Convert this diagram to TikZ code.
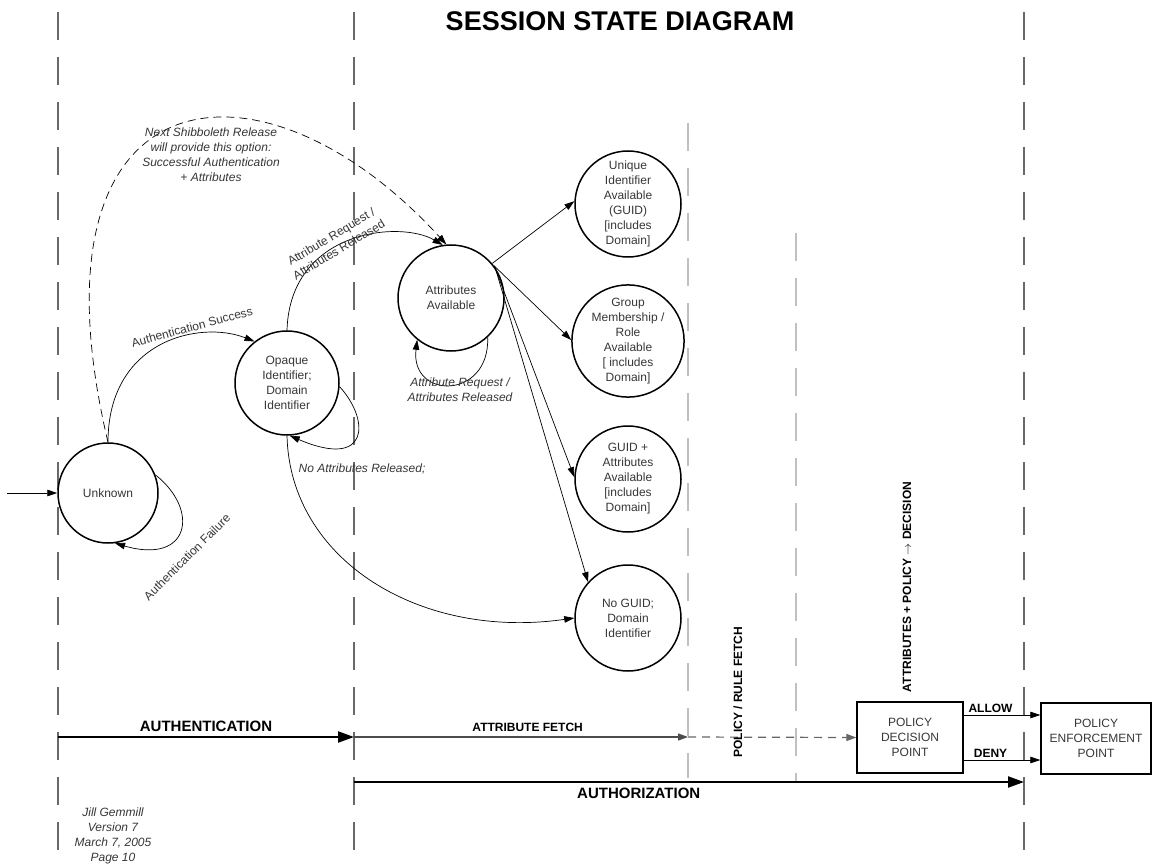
\documentclass[tikz,border=0pt]{standalone}
\usepackage{fontspec}
\setmainfont{Liberation Sans}
\usetikzlibrary{arrows.meta, positioning, calc}
\usepackage{xcolor}
\definecolor{lanegray}{RGB}{105,105,105}
\definecolor{lightlane}{RGB}{192,192,192}
\definecolor{txtgray}{RGB}{55,55,55}

\begin{document}
\begin{tikzpicture}[x=1pt,y=-1pt,
  st/.style={circle,draw,line width=1.5pt,minimum size=106pt,inner sep=0pt,align=center,
    font=\fontsize{12}{15}\selectfont,text=txtgray},
  box/.style={draw,line width=1.3pt,minimum width=106pt,minimum height=71pt,align=center,
    font=\fontsize{12}{15}\selectfont,text=txtgray},
  tr/.style={-{Triangle[length=10pt,width=6.5pt]},line width=0.7pt},
  lbl/.style={font=\fontsize{12}{15}\selectfont\itshape,text=txtgray,align=center},
  rlbl/.style={font=\fontsize{12}{15}\selectfont,text=txtgray,align=center},
  blbl/.style={font=\fontsize{12}{14}\selectfont\bfseries}]
  \useasboundingbox (0,0) rectangle (1155,866);
  \fill[white] (0,0) rectangle (1155,866);

  % swim lanes
  \foreach \x/\ya/\yb/\c/\w in {58/12/850/lanegray/1.3, 354/12/850/lanegray/1.3, 1024/12/850/lanegray/1.3,
                                688/123/778/lightlane/1.1, 796/233/782/lightlane/1.1}
    \draw[\c, line width=\w pt, dash pattern=on 28pt off 17pt] (\x,\ya) -- (\x,\yb);

  \node[font=\fontsize{27}{30}\selectfont\bfseries] (title) at (620,21) {SESSION STATE DIAGRAM};

  % states
  \node[st,minimum size=100pt] (unk) at (108,493) {Unknown};
  \node[st,minimum size=104pt] (opq) at (287,383) {Opaque\\Identifier;\\Domain\\Identifier};
  \node[st] (attr) at (451,298) {Attributes\\Available};
  \node[st] (uid) at (628,204) {Unique\\Identifier\\Available\\(GUID)\\{[}includes\\Domain{]}};
  \node[st] (grp) at (628,341) {Group\\Membership /\\Role\\Available\\{[} includes\\Domain{]}};
  \node[st] (gpa) at (628,479) {GUID +\\Attributes\\Available\\{[}includes\\Domain{]}};
  \node[st] (nog) at (628,618) {No GUID;\\Domain\\Identifier};

  % transitions
  \coordinate (entry) at (7,493);
  \draw[tr] (entry) -- (unk);
  \draw[tr] (unk.north) .. controls (108,340) and (200,320) .. (opq.128);
  \node[rlbl,rotate=15] (l1) at (192,327) {Authentication Success};
  \draw[tr] (unk.21) .. controls (200,510) and (190,565) .. (unk.-82);
  \node[rlbl,rotate=45] (l2) at (187,557) {Authentication Failure};
  \draw[tr,dash pattern=on 8pt off 5pt] (unk.north) .. controls (20,70) and (260,40) .. (attr.95);
  \node[lbl] (l3) at (211,155) {Next Shibboleth Release\\will provide this option:\\Successful Authentication\\+ Attributes};
  \draw[tr] (opq.north) .. controls (290,230) and (400,220) .. (attr.99);
  \node[rlbl,rotate=31] (l4) at (335,243) {Attribute Request /\\Attributes Released};
  \draw[tr] (opq.-4) .. controls (370,420) and (370,470) .. (opq.-87);
  \node[lbl] (l5) at (362,469) {No Attributes Released;};
  \draw[tr] (opq.-90) .. controls (290,560) and (420,640) .. (nog.west);
  \draw[tr] (attr.-47) .. controls (490,400) and (410,400) .. (attr.-129);
  \node[lbl] (l6) at (460,390) {Attribute Request /\\Attributes Released};
  \draw[tr] (attr.40) -- (uid.177);
  \draw[tr] (attr.37) -- (grp.179);
  \draw[tr] (attr.36) -- (gpa.178);
  \draw[tr] (attr.35) -- (nog.138);

  % authorization flow
  \coordinate (a0) at (58,737);
  \coordinate (a1) at (354,737);
  \coordinate (a2) at (688,737);
  \coordinate (z0) at (354,782);
  \coordinate (z1) at (1024,782);
  \node[box] (pdp) at (910,737.5) {POLICY\\DECISION\\POINT};
  \node[box,minimum width=110pt] (pep) at (1096,738.5) {POLICY\\ENFORCEMENT\\POINT};
  \draw[line width=2.2pt,-{Triangle[length=16pt,width=11pt]}] (a0) -- (a1)
    node[midway,above=1pt,font=\fontsize{15}{17}\selectfont\bfseries] {AUTHENTICATION};
  \draw[line width=1.2pt,black!70,-{Triangle[length=10pt,width=7pt]}] (a1) -- (a2)
    node[pos=0.52,above=1pt,blbl,black] {ATTRIBUTE FETCH};
  \draw[line width=1.2pt,black!60,dash pattern=on 8pt off 6pt,-{Triangle[length=10pt,width=7pt]}] (a2) -- (pdp.west);
  \draw[line width=2.2pt,-{Triangle[length=16pt,width=11pt]}] (z0) -- (z1)
    node[pos=0.425,below=2pt,font=\fontsize{15}{17}\selectfont\bfseries] {AUTHORIZATION};
  \draw[tr] ([yshift=22.5pt]pdp.east) -- ([yshift=22.5pt]pdp.east -| pep.west)
    node[pos=0.35,above=-1pt,blbl] {ALLOW};
  \draw[tr] ([yshift=-22.5pt]pdp.east) -- ([yshift=-22.5pt]pdp.east -| pep.west)
    node[pos=0.35,above=-1pt,blbl] {DENY};
  \node[blbl,rotate=90] (prf) at (738,692) {POLICY / RULE FETCH};
  \node[blbl,rotate=90] (apd) at (907,587) {ATTRIBUTES + POLICY $\rightarrow$ DECISION};

  \node[lbl] (foot) at (113,836) {Jill Gemmill\\Version 7\\March 7, 2005\\Page 10};
\end{tikzpicture}
\end{document}
